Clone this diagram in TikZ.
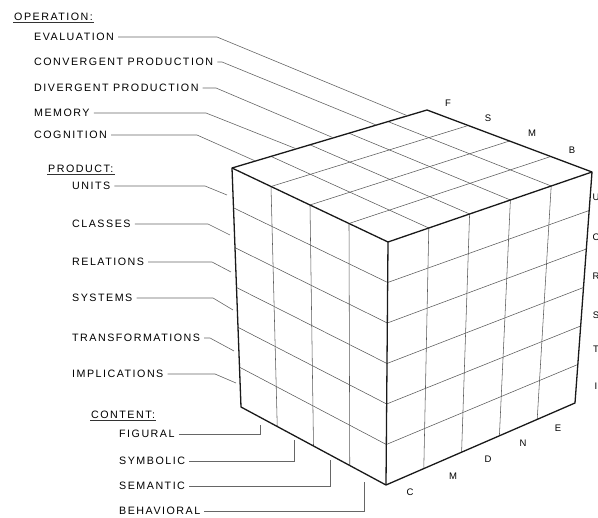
\documentclass[tikz,border=0pt]{standalone}
\usepackage{xcolor}
\usepackage{fontspec}
\usepackage{tikz}
\usetikzlibrary{calc}
\newfontfamily\lblfont[LetterSpace=14]{Liberation Sans}

\begin{document}
\begin{tikzpicture}[x=1pt,y=-1pt,
  lbl/.style={anchor=west,inner sep=1pt,text=black,font=\lblfont\fontsize{10.7}{12}\selectfont},
  tag/.style={inner sep=1pt,text=black,font=\lblfont\fontsize{9.5}{11}\selectfont},
  leader/.style={black!60,line width=0.6pt},
  cell/.style={black!65,line width=0.55pt},
  rim/.style={black!90,line width=1.3pt,line join=round}]
\useasboundingbox (0,0) rectangle (598,518);

% corners of the cube
\coordinate (lt) at (232,168);
\coordinate (ft) at (388,242);
\coordinate (rt) at (592,172);
\coordinate (bt) at (427,110);
\coordinate (lb) at (241,407);
\coordinate (fb) at (386,485);
\coordinate (rb) at (575,403);

% top face
\foreach \i in {1,2,3}
  \draw[cell] ($(ft)!\i/4!(lt)$) -- ($(rt)!\i/4!(bt)$);
\foreach \i in {1,...,4}
  \draw[cell] ($(ft)!\i/5!(rt)$) -- ($(lt)!\i/5!(bt)$);
% left face
\foreach \i in {1,2,3}
  \draw[cell] ($(lt)!\i/4!(ft)$) -- ($(lb)!\i/4!(fb)$);
\foreach \i in {1,...,5}
  \draw[cell] ($(lt)!\i/6!(lb)$) -- ($(ft)!\i/6!(fb)$);
% right face
\foreach \i in {1,...,4}
  \draw[cell] ($(ft)!\i/5!(rt)$) -- ($(fb)!\i/5!(rb)$);
\foreach \i in {1,...,5}
  \draw[cell] ($(ft)!\i/6!(fb)$) -- ($(rt)!\i/6!(rb)$);
\draw[rim] (lt) -- (bt) -- (rt) -- (rb) -- (fb) -- (lb) -- cycle;
\draw[rim] (lt) -- (ft) -- (rt) (ft) -- (fb);

% operation
\node[lbl] (op) at (13,17) {OPERATION:};
\draw[black!80,line width=0.6pt] (op.south west) -- (op.south east);
\foreach \nm/\txt/\y/\bx/\t in {ev/EVALUATION/37/217/0.9,
    cv/CONVERGENT PRODUCTION/62/222/0.74,
    dv/DIVERGENT PRODUCTION/88/216/0.52,
    me/MEMORY/113/206/0.33,
    co/COGNITION/135/197/0.12}{
  \node[lbl] (\nm) at (33,\y) {\txt};
  \draw[leader] ([xshift=3pt]\nm.east) -- (\bx,\y) -- ($(lt)!\t!(bt)$);
}

% product
\node[lbl] (pr) at (47,169) {PRODUCT:};
\draw[black!80,line width=0.6pt] (pr.south west) -- (pr.south east);
\foreach \nm/\txt/\y/\bx/\ex/\ey in {un/UNITS/186/205/227/195,
    cl/CLASSES/224/208/230/235,
    re/RELATIONS/262/212/231/272,
    sy/SYSTEMS/298/213/233/310,
    tr/TRANSFORMATIONS/338/210/234/351,
    im/IMPLICATIONS/374/215/236/383}{
  \node[lbl] (\nm) at (71,\y) {\txt};
  \coordinate (\nm-end) at (\ex,\ey);
  \draw[leader] ([xshift=3pt]\nm.east) -- (\bx,\y) -- (\nm-end);
}

% content
\node[lbl] (ct) at (90,415) {CONTENT:};
\draw[black!80,line width=0.6pt] (ct.south west) -- (ct.south east);
\foreach \nm/\txt/\y/\ex/\ey in {fi/FIGURAL/434/260/425,
    sb/SYMBOLIC/461/294/440,
    se/SEMANTIC/486/330/460,
    be/BEHAVIORAL/511/364/482}{
  \node[lbl] (\nm) at (118,\y) {\txt};
  \coordinate (\nm-end) at (\ex,\ey);
  \draw[leader] ([xshift=3pt]\nm.east) -- (\ex,\y) -- (\nm-end);
}

% letters along the edges
\node[tag] (tF) at (448,103) {F};
\node[tag] (tS) at (488,118) {S};
\node[tag] (tM) at (532,133) {M};
\node[tag] (tB) at (572,150) {B};
\node[tag] (rU) at (596,197) {U};
\node[tag] (rC) at (596,237) {C};
\node[tag] (rR) at (596,276) {R};
\node[tag] (rS) at (596,315) {S};
\node[tag] (rT) at (596,349) {T};
\node[tag] (rI) at (596,386) {I};
\node[tag] (bC) at (410,492) {C};
\node[tag] (bM) at (453,476) {M};
\node[tag] (bD) at (488,459) {D};
\node[tag] (bN) at (523,443) {N};
\node[tag] (bE) at (558,428) {E};
\end{tikzpicture}
\end{document}
